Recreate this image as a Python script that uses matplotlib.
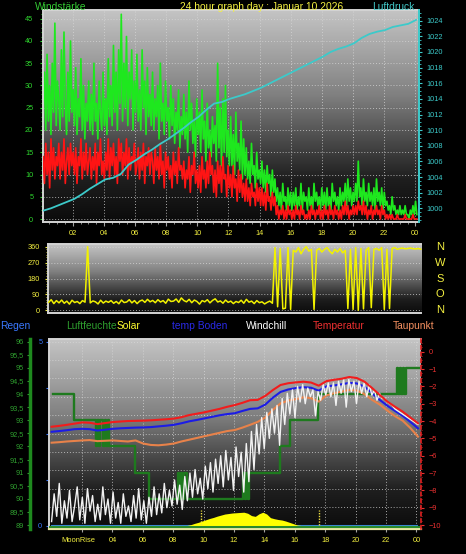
import numpy as np
import matplotlib
matplotlib.use('Agg')
import matplotlib.pyplot as plt
from matplotlib.ticker import MultipleLocator, FixedLocator, FuncFormatter
from matplotlib.colors import LinearSegmentedColormap
import matplotlib.transforms as mtransforms

plt.rcParams['font.family'] = ['Liberation Sans', 'DejaVu Sans']

# ---------------- data ----------------
title = "24 hour graph day : Januar 10 2026"

# wind gust (km/h), 5-minute samples
gust = [
    25, 33, 20, 37, 22, 30, 19, 35, 24, 44, 21, 31,
    27, 20, 38, 23, 42, 26, 19, 33, 22, 40, 24, 29,
    21, 34, 19, 27, 23, 36, 20, 30, 18, 26, 22, 31,
    20, 28, 19, 35, 22, 26, 18, 31, 24, 20, 33, 21,
    27, 19, 36, 23, 30, 21, 39, 24, 33, 20, 38, 26,
    46, 22, 35, 25, 41, 21, 33, 27, 38, 20, 31, 24,
    37, 22, 29, 20, 38, 25, 31, 19, 34, 23, 28, 21,
    33, 20, 27, 23, 30, 18, 35, 22, 26, 19, 31, 22,
    25, 18, 30, 21, 27, 17, 24, 20, 29, 16, 23, 19,
    28, 18, 24, 15, 31, 20, 26, 17, 22, 14, 27, 19,
    24, 15, 29, 18, 22, 13, 26, 16, 20, 14, 23, 17,
    21, 13, 35, 16, 25, 12, 27, 15, 30, 14, 20, 12,
    23, 12, 19, 10, 24, 13, 17, 11, 22, 9, 18, 10,
    16, 9, 13, 8, 17, 10, 12, 7, 15, 9, 11, 8,
    13, 7, 11, 6, 12, 8, 10, 5, 11, 6, 9, 4,
    7, 3, 6, 2, 8, 4, 5, 2, 7, 3, 6, 2,
    6, 3, 7, 2, 5, 3, 8, 2, 6, 4, 5, 2,
    7, 3, 5, 2, 8, 4, 6, 3, 5, 2, 7, 3,
    6, 2, 7, 3, 5, 2, 8, 4, 6, 3, 5, 2,
    7, 3, 6, 4, 8, 3, 9, 4, 7, 3, 6, 4,
    8, 4, 13, 5, 7, 3, 9, 4, 6, 3, 8, 4,
    6, 3, 7, 2, 9, 4, 6, 3, 7, 2, 6, 3,
    4, 2, 3, 1, 5, 2, 3, 1, 2, 1, 3, 1,
    2, 1, 3, 1, 1, 0, 2, 1, 3, 1, 4, 1,
]

# average wind speed (km/h), 5-minute samples
wind = [
    14, 8, 17, 10, 15, 7, 18, 11, 16, 9, 14, 12,
    17, 9, 15, 11, 18, 8, 13, 16, 10, 17, 12, 15,
    10, 16, 8, 14, 12, 18, 9, 15, 11, 17, 10, 13,
    16, 9, 14, 11, 17, 8, 15, 12, 18, 10, 13, 9,
    15, 11, 18, 9, 16, 12, 17, 10, 14, 8, 18, 13,
    17, 10, 15, 12, 18, 9, 16, 11, 14, 13, 17, 10,
    12, 16, 9, 15, 11, 17, 8, 14, 12, 16, 10, 15,
    13, 8, 16, 11, 14, 9, 17, 10, 13, 7, 15, 11,
    14, 9, 12, 7, 15, 10, 13, 8, 16, 11, 12, 9,
    13, 7, 11, 9, 14, 6, 12, 10, 15, 8, 11, 7,
    12, 6, 14, 9, 11, 7, 13, 8, 15, 10, 12, 6,
    11, 5, 13, 8, 12, 6, 14, 9, 10, 5, 12, 7,
    10, 5, 12, 7, 9, 4, 11, 6, 10, 5, 8, 4,
    9, 4, 7, 3, 8, 5, 6, 3, 8, 4, 7, 3,
    7, 3, 6, 2, 8, 4, 5, 2, 6, 3, 5, 1,
    3, 0, 2, 1, 3, 0, 2, 0, 3, 1, 2, 0,
    2, 0, 3, 1, 2, 0, 3, 1, 2, 0, 1, 0,
    2, 0, 3, 1, 2, 0, 2, 1, 3, 0, 2, 0,
    3, 1, 2, 0, 3, 1, 2, 0, 3, 1, 2, 0,
    2, 0, 3, 1, 4, 1, 3, 0, 2, 1, 3, 1,
    3, 1, 4, 2, 3, 1, 4, 1, 3, 0, 2, 1,
    3, 0, 2, 1, 3, 1, 2, 0, 3, 1, 2, 0,
    1, 0, 1, 0, 1, 0, 0, 0, 1, 0, 0, 0,
    0, 0, 1, 0, 0, 0, 0, 0, 1, 0, 0, 0,
]

# air pressure (hPa), half-hourly
pressure = [
    999.7, 1000.0, 1000.4, 1000.8, 1001.2, 1001.8, 1002.5, 1003.1,
    1003.7, 1003.9, 1004.4, 1005.6, 1006.2, 1006.9, 1007.5, 1008.2,
    1008.8, 1009.5, 1010.2, 1011.0, 1011.7, 1012.6, 1013.4, 1013.6,
    1014.0, 1014.3, 1014.6, 1015.0, 1015.4, 1015.9, 1016.4, 1016.9,
    1017.4, 1017.9, 1018.4, 1018.9, 1019.4, 1020.0, 1020.4, 1020.7,
    1021.1, 1021.8, 1022.3, 1022.6, 1022.8, 1023.2, 1023.4, 1023.6,
    1024.1,
]

# wind direction (degrees), 10-minute samples
wind_dir = [
    45, 60, 38, 55, 42, 58,
    40, 52, 35, 57, 44, 50,
    38, 55, 46, 360, 42, 53,
    48, 36, 57, 41, 52, 45,
    55, 40, 50, 37, 58, 44,
    47, 60, 42, 55, 38, 52,
    58, 45, 62, 48, 56, 43,
    60, 47, 55, 40, 63, 50,
    52, 64, 45, 70, 55, 48,
    62, 43, 58, 50, 35, 55,
    48, 60, 42, 56, 65, 47,
    53, 40, 58, 45, 52, 38,
    50, 44, 57, 40, 62, 46,
    52, 38, 55, 43, 48, 36,
    45, 52, 40, 355, 20, 350,
    8, 12, 355, 5, 340, 330,
    355, 320, 345, 360, 335, 345,
    5, 340, 350, 330, 345, 355,
    335, 320, 345, 330, 350, 325,
    340, 10, 345, 5, 355, 0,
    350, 8, 340, 355, 15, 345,
    350, 340, 355, 5, 345, 10,
    350, 355, 345, 350, 352, 348,
    350, 352, 349, 347, 350, 346,
]
compass = ["N", "W", "S", "O", "N"]
compass_deg = [360, 270, 180, 90, 0]

# temperatures (deg C), half-hourly
temperatur = [
    -4.33, -4.28, -4.22, -4.15, -4.08, -4.10, -4.18, -4.12,
    -4.06, -4.03, -4.00, -3.99, -3.98, -3.96, -3.93, -3.90,
    -3.86, -3.78, -3.66, -3.58, -3.50, -3.40, -3.30, -3.18,
    -3.08, -2.95, -2.80, -2.78, -2.55, -2.21, -1.92, -1.82,
    -1.77, -1.73, -1.78, -1.96, -1.70, -1.62, -1.56, -1.46,
    -1.52, -1.73, -2.10, -2.50, -2.88, -3.18, -3.46, -3.80,
    -4.13,
]
temp_boden = [
    -4.62, -4.58, -4.53, -4.47, -4.45, -4.47, -4.55, -4.50,
    -4.45, -4.42, -4.40, -4.38, -4.37, -4.35, -4.31, -4.27,
    -4.22, -4.13, -4.02, -3.94, -3.85, -3.76, -3.67, -3.60,
    -3.55, -3.42, -3.30, -3.27, -3.05, -2.65, -2.32, -2.18,
    -2.10, -2.05, -2.08, -2.25, -2.00, -1.95, -1.88, -1.80,
    -1.83, -2.02, -2.40, -2.78, -3.12, -3.42, -3.70, -4.05,
    -4.42,
]
taupunkt = [
    -5.25, -5.22, -5.18, -5.15, -5.12, -5.10, -5.16, -5.14,
    -5.12, -5.15, -5.18, -5.12, -5.30, -5.38, -5.40, -5.36,
    -5.30, -5.18, -5.08, -4.98, -4.88, -4.78, -4.68, -4.58,
    -4.52, -4.38, -4.22, -4.05, -3.80, -3.35, -2.98, -2.82,
    -2.74, -2.63, -2.68, -2.88, -2.52, -2.40, -2.30, -2.20,
    -2.24, -2.45, -2.78, -3.05, -3.40, -3.72, -3.98, -4.40,
    -4.90,
]
# windchill (deg C), 10-minute samples
windchill = [
    -9.8, -8.2, -9.5, -7.6, -9.9, -8.6,
    -9.6, -8.0, -9.8, -8.9, -7.8, -9.7,
    -8.4, -9.9, -7.9, -9.2, -8.3, -9.8,
    -8.8, -9.7, -7.8, -9.4, -8.5, -9.9,
    -8.1, -9.6, -8.7, -9.9, -8.2, -9.5,
    -8.9, -9.8, -8.3, -9.6, -7.9, -9.7,
    -8.6, -9.9, -8.4, -9.5, -7.8, -9.4,
    -8.2, -9.3, -7.6, -9.0, -8.0, -8.9,
    -7.4, -8.8, -7.7, -9.1, -7.2, -8.6,
    -7.0, -8.4, -6.8, -8.2, -7.3, -8.5,
    -6.6, -7.9, -6.4, -8.1, -6.2, -7.6,
    -6.0, -7.8, -5.7, -7.4, -6.1, -8.0,
    -5.5, -7.2, -5.8, -8.1, -5.3, -7.5,
    -4.6, -6.8, -4.2, -5.9, -3.8, -5.6,
    -3.5, -5.0, -3.3, -4.7, -3.1, -5.4,
    -2.7, -4.2, -2.4, -3.6, -2.2, -3.8,
    -2.0, -2.9, -1.9, -3.0, -2.1, -2.6,
    -2.2, -3.7, -2.3, -2.8, -1.9, -2.5,
    -1.8, -2.6, -1.8, -3.1, -1.7, -2.4,
    -1.6, -3.2, -1.6, -2.3, -1.7, -3.0,
    -1.7, -2.4, -1.8, -2.6, -1.9, -2.5,
    -2.2, -2.8, -2.4, -2.7, -2.7, -2.9,
    -3.0, -3.1, -3.3, -3.4, -3.5, -3.6,
    -3.7, -3.8, -3.9, -4.0, -4.1, -4.2,
]

# relative humidity (%): time of change (h) and value from then on
hum_t = [0.1, 1.45, 2.9, 3.0, 3.1, 3.2, 3.35, 3.5, 3.6, 3.7, 3.8, 5.5, 6.4,
         8.3, 8.4, 8.5, 8.6, 8.7, 8.9, 12.6, 12.7, 12.8, 12.9, 13.0,
         15.0, 15.7, 17.5, 22.7, 22.8, 22.9, 23.0, 23.1, 23.2, 23.3, 24.15]
hum_v = [94, 93, 92, 93, 92, 93, 92, 93, 92, 93, 92, 91, 90,
         91, 90, 91, 90, 91, 90, 91, 90, 91, 90, 91,
         92, 93, 94, 95, 94, 95, 94, 95, 94, 95, 95]

# rain (mm), hourly
rain = [0.0, 0.0, 0.0, 0.0, 0.0, 0.0, 0.0, 0.0, 0.0, 0.0, 0.0, 0.0, 0.0,
        0.0, 0.0, 0.0, 0.0, 0.0, 0.0, 0.0, 0.0, 0.0, 0.0, 0.0, 0.0]

# solar radiation (W/m2), quarter-hourly from 08:54
solar = [0, 3, 8, 12, 17, 22, 27, 31, 36, 40, 44, 46, 48, 49, 50, 51,
         47, 38, 35, 45, 51, 44, 30, 26, 23, 21, 17, 12, 7, 2, 0]
sun_marks = [9.8, 17.6]
moonrise = 1.79

legend_labels = ["Regen", "Luftfeuchte", "Solar", "temp Boden", "Windchill",
                 "Temperatur", "Taupunkt"]

# ---------------- figure ----------------
W, H = 466, 554
fig = plt.figure(figsize=(W / 100, H / 100), dpi=100, facecolor='black')


def rect(l, t, r, b):
    return [l / W, 1 - b / H, (r - l) / W, (b - t) / H]


grad_cmap = LinearSegmentedColormap.from_list(
    'bg', [(0.0, '#0b0b0b'), (0.2, '#1e1e1e'), (0.4, '#4e4e4e'),
           (0.6, '#808080'), (0.8, '#a3a3a3'), (1.0, '#c4c4c4')])


def background(ax):
    g = np.linspace(0, 1, 256).reshape(-1, 1)
    ax.imshow(g, extent=[0, 1, 0, 1], transform=ax.transAxes, origin='lower',
              aspect='auto', cmap=grad_cmap, vmin=0, vmax=1, zorder=0,
              interpolation='bilinear')
    ax.set_facecolor('black')


GRID = dict(color='#d8d8d8', linestyle=(0, (1, 2)), linewidth=0.7, alpha=0.75)
FS = 5.3
YELLOW = '#f4f040'
hour_fmt = FuncFormatter(lambda v, p: f"{int(round(v)) % 24:02d}")
frame_col = '#d4d4d4'
hour_ticks = list(range(2, 25, 2))

# ---------- panel 1: wind + pressure ----------
ax1 = fig.add_axes(rect(43, 10, 419.5, 222))
background(ax1)
t_w = np.linspace(0.1, 24.1, len(gust))
ax1.plot(t_w, gust, color='#1ee81e', lw=1.2, zorder=2)
ax1.plot(t_w, wind, color='#ff1414', lw=1.2, zorder=3)
ax1.set_xlim(0.09, 24.27)
ax1.set_ylim(-0.67, 46.96)
ax1.xaxis.set_major_locator(FixedLocator(hour_ticks))
ax1.xaxis.set_minor_locator(MultipleLocator(0.5))
ax1.xaxis.set_major_formatter(hour_fmt)
ax1.yaxis.set_major_locator(MultipleLocator(5))
ax1.yaxis.set_minor_locator(MultipleLocator(1))
ax1.grid(True, which='major', **GRID)
ax1.tick_params(axis='x', which='major', colors='#a0a0a0', labelcolor=YELLOW,
                labelsize=FS, length=3, pad=3)
ax1.tick_params(axis='x', which='minor', colors='#a0a0a0', length=1.5)
ax1.tick_params(axis='y', which='major', colors='#2ed62e', labelsize=FS,
                length=2.5, pad=4.5)
ax1.tick_params(axis='y', which='minor', colors='#2ed62e', length=1.2)
for s in ['left', 'bottom', 'top']:
    ax1.spines[s].set_color(frame_col)
    ax1.spines[s].set_linewidth(1.4)
ax1.spines['right'].set_visible(False)

ax1p = ax1.twinx()
t_p = np.linspace(0.1, 24.05, len(pressure))
ax1p.plot(t_p, pressure, color='#3ccaca', lw=1.3, zorder=4)
ax1p.set_ylim(998.25, 1025.37)
ax1p.yaxis.set_major_locator(MultipleLocator(2))
ax1p.yaxis.set_minor_locator(MultipleLocator(0.5))
ax1p.tick_params(axis='y', which='major', colors='#3ccaca', labelsize=FS,
                 length=2.5, pad=2.5)
ax1p.tick_params(axis='y', which='minor', colors='#3ccaca', length=1.2)
for s in ['left', 'bottom', 'top']:
    ax1p.spines[s].set_visible(False)
ax1p.spines['right'].set_color('#3ccaca')
ax1p.spines['right'].set_linewidth(1.4)

fig.text(35 / W, 1 - 6.5 / H, "Windstärke", color='#33cc33', fontsize=7.4,
         ha='left', va='center')
fig.text(262 / W, 1 - 6.5 / H, title, color=YELLOW, fontsize=7.4,
         ha='center', va='center')
fig.text(372 / W, 1 - 6.5 / H, "Luftdruck", color='#40c8c8', fontsize=7.4,
         ha='left', va='center')

# ---------- panel 2: wind direction ----------
ax2 = fig.add_axes(rect(48.3, 244.3, 421.5, 312.7))
background(ax2)
t_d = np.linspace(-0.15, 24.25, len(wind_dir))
ax2.plot(t_d, wind_dir, color='#f2f200', lw=1.1, zorder=3)
ax2.set_xlim(-0.17, 24.3)
ax2.set_ylim(-13.6, 373.6)
ax2.yaxis.set_major_locator(FixedLocator([0, 90, 180, 270, 360]))
ax2.yaxis.set_minor_locator(MultipleLocator(15))
ax2.set_xticks([])
ax2.grid(True, which='major', axis='y', **GRID)
ax2.tick_params(axis='y', which='major', colors=YELLOW, labelsize=FS,
                length=2.5, pad=3.5)
ax2.tick_params(axis='y', which='minor', colors=YELLOW, length=1.2)
for s in ['left', 'bottom', 'top']:
    ax2.spines[s].set_color(frame_col)
    ax2.spines[s].set_linewidth(1.4)
ax2.spines['right'].set_visible(False)
for lab, deg in zip(compass, compass_deg):
    ax2.text(1.05, deg, lab, transform=ax2.get_yaxis_transform(),
             color=YELLOW, fontsize=8, ha='center', va='center')

# ---------- panel 3: temperatures, humidity, rain, solar ----------
ax3 = fig.add_axes(rect(49.3, 339, 420.7, 529))
background(ax3)
ax3.set_xlim(-0.15, 24.28)
ax3.set_ylim(-0.09, 5.073)
t_r = np.arange(len(rain))
ax3.plot(t_r, rain, color='#3a8ad8', lw=2.2, zorder=3)
ax3.plot([0, 1], [0.011, 0.011], transform=ax3.transAxes, color='#2a8a2a',
         lw=1.5, zorder=3)
ax3.xaxis.set_major_locator(FixedLocator(hour_ticks))
# the 02 label sits under the MoonRise marker text
ax3.xaxis.set_major_formatter(FuncFormatter(
    lambda v, p: "" if abs(v - 2) < 0.01 else f"{int(round(v)) % 24:02d}"))
ax3.yaxis.set_major_locator(FixedLocator([0, 1.25, 2.5, 3.75, 5]))
ax3.yaxis.set_major_formatter(FuncFormatter(
    lambda v, p: f"{v:g}" if v in (0, 5) else ""))
ax3.yaxis.set_minor_locator(MultipleLocator(0.5))
ax3.yaxis.remove_overlapping_locs = False
ax3.grid(True, which='major', axis='x', **GRID)
ax3.grid(True, which='minor', axis='y', **GRID)
ax3.tick_params(axis='x', which='major', colors='#a0a0a0', labelcolor=YELLOW,
                labelsize=FS, length=2, pad=4)
ax3.tick_params(axis='y', which='major', colors='#3a78ff', labelsize=FS,
                length=2, pad=3)
ax3.tick_params(axis='y', which='minor', length=0)
for s in ['left', 'top']:
    ax3.spines[s].set_color(frame_col)
    ax3.spines[s].set_linewidth(1.4)
ax3.spines['bottom'].set_color('#e8e8a0')
ax3.spines['bottom'].set_linewidth(1.6)
ax3.spines['right'].set_visible(False)
ax3.text(moonrise, -0.058, "MoonRise", color=YELLOW, fontsize=5.4,
         ha='center', va='center',
         transform=mtransforms.blended_transform_factory(ax3.transData,
                                                         ax3.transAxes))

# solar (hidden axis)
ax3s = ax3.twinx()
t_s = 8.9 + 0.25 * np.arange(len(solar))
ax3s.fill_between(t_s, 0, solar, color='#ffff00', lw=0, zorder=2)
ax3s.vlines(sun_marks, 0, 58, colors='#f0e040', linestyles=(0, (1, 1)), lw=1)
ax3s.set_ylim(-13.5, 716)
ax3s.axis('off')

# humidity (outer left axis)
ax3h = ax3.twinx()
ax3h.step(hum_t, hum_v, where='post', color='#1e7a1e', lw=1.7, zorder=2)
ax3h.set_ylim(88.85, 96.10)
ax3h.yaxis.tick_left()
ax3h.spines['left'].set_visible(True)
ax3h.spines['left'].set_position(('outward', 13.9))
ax3h.spines['left'].set_color('#1e8a1e')
ax3h.spines['left'].set_linewidth(2.5)
for s in ['right', 'top', 'bottom']:
    ax3h.spines[s].set_visible(False)
ax3h.yaxis.set_major_locator(MultipleLocator(0.5))
ax3h.yaxis.set_minor_locator(MultipleLocator(0.25))
ax3h.yaxis.set_major_formatter(FuncFormatter(
    lambda v, p: f"{v:g}".replace('.', ',')))
ax3h.tick_params(axis='y', which='major', colors='#2fa02f', labelsize=FS,
                 length=2, pad=2.5)
ax3h.tick_params(axis='y', which='minor', colors='#2fa02f', length=1)

# temperatures (right axis)
ax3t = ax3.twinx()
t_t = np.linspace(0.0, 24.1, len(temperatur))
t_c = np.linspace(0.0, 24.1, len(windchill))
ax3t.plot(t_t, taupunkt, color='#e8824a', lw=1.5, zorder=2)
ax3t.plot(t_t, temp_boden, color='#1c1ce6', lw=1.5, zorder=3)
ax3t.plot(t_c, windchill, color='#f2f2f2', lw=1.0, zorder=4)
ax3t.plot(t_t, temperatur, color='#f21c1c', lw=1.5, zorder=5)
ax3t.set_ylim(-10.23, 0.733)
ax3t.yaxis.set_major_locator(MultipleLocator(1))
ax3t.yaxis.set_minor_locator(MultipleLocator(0.25))
ax3t.tick_params(axis='y', which='major', colors='#e83030', labelsize=FS,
                 length=2.5, pad=3.5)
ax3t.tick_params(axis='y', which='minor', colors='#e83030', length=1)
for s in ['left', 'top', 'bottom']:
    ax3t.spines[s].set_visible(False)
ax3t.spines['right'].set_color('#e02020')
ax3t.spines['right'].set_linestyle((0, (2, 2)))
ax3t.spines['right'].set_linewidth(1.2)

# legend row
leg_x = [0, 66, 117, 172, 246, 313, 393]
leg_c = ['#3a78ff', '#2e9e2e', '#ffff30', '#2a2ae8', '#ffffff', '#f03030',
         '#f59060']
for lab, x, c in zip(legend_labels, leg_x, leg_c):
    fig.text(x / W, 1 - 326 / H, lab, color=c, fontsize=7.4, ha='left',
             va='center')

fig.savefig('out.png', dpi=100, facecolor='black')
